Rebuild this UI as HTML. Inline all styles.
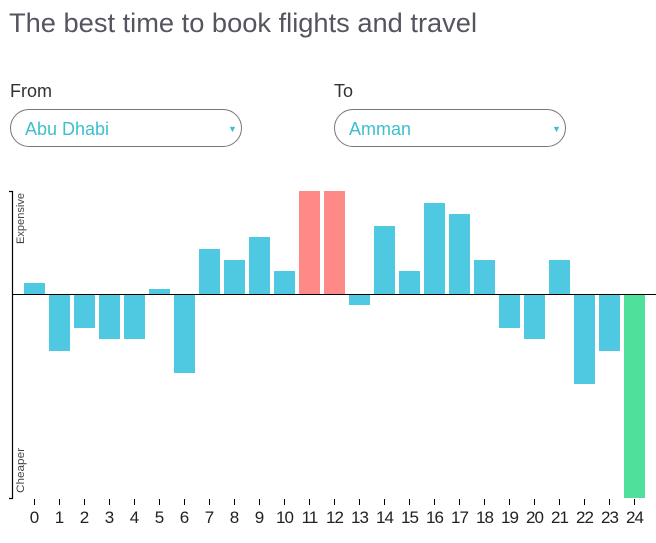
<!DOCTYPE html>
<html><head><meta charset="utf-8"><style>
body{margin:0;background:#fff;width:656px;height:538px;overflow:hidden;font-family:"Liberation Sans",sans-serif}
</style></head><body>
<svg width="656" height="538" xmlns="http://www.w3.org/2000/svg" font-family="Liberation Sans, sans-serif">
<text x="9" y="32" font-size="27" fill="#555560" textLength="468" lengthAdjust="spacingAndGlyphs">The best time to book flights and travel</text>
<text x="10" y="97" font-size="18" fill="#333">From</text>
<text x="334" y="97" font-size="18" fill="#333">To</text>
<rect x="10.5" y="109.5" width="231" height="37" rx="18.5" fill="#fff" stroke="#777"/>
<text x="25" y="135" font-size="18" fill="#3cbfcf">Abu Dhabi</text>
<text x="228" y="132" font-size="9" fill="#3cbfcf">▼</text>
<rect x="334.5" y="109.5" width="231" height="37" rx="18.5" fill="#fff" stroke="#777"/>
<text x="349" y="135" font-size="18" fill="#3cbfcf">Amman</text>
<text x="552" y="132" font-size="9" fill="#3cbfcf">▼</text>
<g fill="#4ec9e1">
<rect x="24" y="283" width="21" height="11"/>
<rect x="49" y="294" width="21" height="57"/>
<rect x="74" y="294" width="21" height="34"/>
<rect x="99" y="294" width="21" height="45"/>
<rect x="124" y="294" width="21" height="45"/>
<rect x="149" y="289" width="21" height="5"/>
<rect x="174" y="294" width="21" height="79"/>
<rect x="199" y="249" width="21" height="45"/>
<rect x="224" y="260" width="21" height="34"/>
<rect x="249" y="237" width="21" height="57"/>
<rect x="274" y="271" width="21" height="23"/>
<rect x="349" y="294" width="21" height="11"/>
<rect x="374" y="226" width="21" height="68"/>
<rect x="399" y="271" width="21" height="23"/>
<rect x="424" y="203" width="21" height="91"/>
<rect x="449" y="214" width="21" height="80"/>
<rect x="474" y="260" width="21" height="34"/>
<rect x="499" y="294" width="21" height="34"/>
<rect x="524" y="294" width="21" height="45"/>
<rect x="549" y="260" width="21" height="34"/>
<rect x="574" y="294" width="21" height="90"/>
<rect x="599" y="294" width="21" height="57"/>
</g>
<rect x="299" y="191" width="21" height="103" fill="#fe8a87"/>
<rect x="324" y="191" width="21" height="103" fill="#fe8a87"/>
<rect x="624" y="294" width="21" height="204" fill="#4fe09c"/>
<line x1="12" y1="294.5" x2="656" y2="294.5" stroke="#000" stroke-width="1"/>
<path d="M9 191.5H12.5V498.5H9" fill="none" stroke="#000" stroke-width="1.2"/>
<text transform="translate(24,244) rotate(-90)" font-size="11" fill="#444" textLength="51" lengthAdjust="spacingAndGlyphs">Expensive</text>
<text transform="translate(24,493) rotate(-90)" font-size="11" fill="#444" textLength="45" lengthAdjust="spacingAndGlyphs">Cheaper</text>
<g stroke="#000" stroke-width="1">
<path d="M34.5 499v6M59.5 499v6M84.5 499v6M109.5 499v6M134.5 499v6M159.5 499v6M184.5 499v6M209.5 499v6M234.5 499v6M259.5 499v6M284.5 499v6M309.5 499v6M334.5 499v6M359.5 499v6M384.5 499v6M409.5 499v6M434.5 499v6M459.5 499v6M484.5 499v6M509.5 499v6M534.5 499v6M559.5 499v6M584.5 499v6M609.5 499v6M634.5 499v6"/>
</g>
<g font-size="17" fill="#222" text-anchor="middle">
<text x="34.5" y="523">0</text><text x="59.5" y="523">1</text><text x="84.5" y="523">2</text><text x="109.5" y="523">3</text><text x="134.5" y="523">4</text><text x="159.5" y="523">5</text><text x="184.5" y="523">6</text><text x="209.5" y="523">7</text><text x="234.5" y="523">8</text><text x="259.5" y="523">9</text><text x="284.5" y="523" letter-spacing="-1">10</text><text x="309.5" y="523" letter-spacing="-1">11</text><text x="334.5" y="523" letter-spacing="-1">12</text><text x="359.5" y="523" letter-spacing="-1">13</text><text x="384.5" y="523" letter-spacing="-1">14</text><text x="409.5" y="523" letter-spacing="-1">15</text><text x="434.5" y="523" letter-spacing="-1">16</text><text x="459.5" y="523" letter-spacing="-1">17</text><text x="484.5" y="523" letter-spacing="-1">18</text><text x="509.5" y="523" letter-spacing="-1">19</text><text x="534.5" y="523" letter-spacing="-1">20</text><text x="559.5" y="523" letter-spacing="-1">21</text><text x="584.5" y="523" letter-spacing="-1">22</text><text x="609.5" y="523" letter-spacing="-1">23</text><text x="634.5" y="523" letter-spacing="-1">24</text>
</g>
</svg>
</body></html>
